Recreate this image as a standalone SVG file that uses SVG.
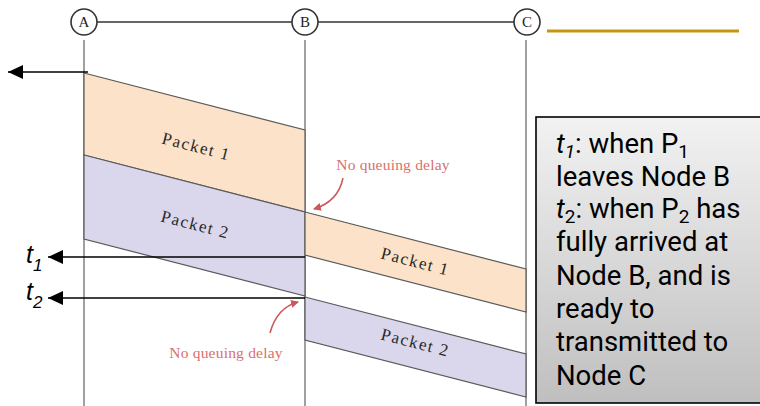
<svg xmlns="http://www.w3.org/2000/svg" width="760" height="406" viewBox="0 0 760 406">
<defs>
<style>
.node circle{fill:#fff;stroke:#333;stroke-width:1.6}
.node text{font-family:"Liberation Serif",serif;font-size:15px;fill:#222;text-anchor:middle}
.vline{stroke:#a0a0a0;stroke-width:2}
.pk1{fill:#fbe2c8;stroke:#5a5a5a;stroke-width:1.2}
.pk2{fill:#dad6ec;stroke:#5a5a5a;stroke-width:1.2}
.plabel{font-family:"Liberation Serif",serif;font-size:17px;letter-spacing:1.5px;fill:#2a2a2a;text-anchor:middle}
.nq{font-family:"Liberation Serif",serif;font-size:15.5px;letter-spacing:0.2px;fill:#d9706c;text-anchor:middle}
.nqarrow{fill:none;stroke:#c9585a;stroke-width:1.5}
.arr{stroke:#000;stroke-width:1.6;fill:none}
.tl{font-family:"Liberation Sans",Arial,sans-serif;font-size:25px;font-style:italic;fill:#000}
.box{font-family:Roboto,"Liberation Sans",sans-serif;font-size:27.5px;fill:#000}
</style>
<marker id="ah" markerWidth="15" markerHeight="14" refX="15" refY="7" orient="auto" markerUnits="userSpaceOnUse">
<path d="M0,0 L15,7 L0,14 Z" fill="#000"/>
</marker>
<marker id="rh" markerWidth="8" markerHeight="8" refX="7" refY="4" orient="auto" markerUnits="userSpaceOnUse">
<path d="M0,0 L8,4 L0,8 Z" fill="#c9585a"/>
</marker>
<linearGradient id="bg" x1="0" y1="0" x2="0" y2="1">
<stop offset="0" stop-color="#f2f2f2"/>
<stop offset="1" stop-color="#bfbfbf"/>
</linearGradient>
</defs>
<rect width="760" height="406" fill="#fff"/>
<g id="timeline">
<line x1="97" y1="22" x2="292" y2="22" stroke="#333" stroke-width="1.5"/>
<line x1="318" y1="22" x2="514" y2="22" stroke="#333" stroke-width="1.5"/>
<line class="vline" x1="84" y1="40" x2="84" y2="406"/>
<line class="vline" x1="305" y1="40" x2="305" y2="406"/>
<line class="vline" x1="526" y1="40" x2="526" y2="406"/>
<line x1="547" y1="31" x2="739" y2="31" stroke="#c8960c" stroke-width="3"/>
</g>
<g id="node-A" class="node"><circle cx="84" cy="22" r="13"/><text x="84" y="27">A</text></g>
<g id="node-B" class="node"><circle cx="305" cy="22" r="13"/><text x="305" y="27">B</text></g>
<g id="node-C" class="node"><circle cx="527" cy="22" r="13"/><text x="527" y="27">C</text></g>
<g id="packet1-AB">
<polygon class="pk1" points="84,73 305,130 305,212 84,155"/>
<text class="plabel" transform="translate(195,152) rotate(14.5)">Packet 1</text>
</g>
<g id="packet2-AB">
<polygon class="pk2" points="84,155 305,212 305,296 84,239"/>
<text class="plabel" transform="translate(194,230) rotate(14.5)">Packet 2</text>
</g>
<g id="packet1-BC">
<polygon class="pk1" points="305,212 526,269 526,312 305,255"/>
<text class="plabel" transform="translate(414,267) rotate(14.5)">Packet 1</text>
</g>
<g id="packet2-BC">
<polygon class="pk2" points="305,297 526,354 526,397 305,340"/>
<text class="plabel" transform="translate(414,348) rotate(14.5)">Packet 2</text>
</g>
<g id="note-top">
<text class="nq" x="393" y="170">No queuing delay</text>
</g>
<g id="note-bottom">
<text class="nq" x="226" y="358">No queuing delay</text>
</g>
<g id="t-labels">
<text class="tl" x="26" y="263">t<tspan font-size="17" dy="8">1</tspan></text>
<text class="tl" x="26" y="300">t<tspan font-size="17" dy="8">2</tspan></text>
</g>
<g id="legend">
<rect x="536" y="117" width="240" height="286" fill="url(#bg)" stroke="#000" stroke-width="1.6"/>
<text class="box" x="556" y="153"><tspan font-style="italic">t</tspan><tspan font-size="19" font-style="italic" dy="5">1</tspan><tspan dy="-5">: when P</tspan><tspan font-size="19" dy="5">1</tspan></text>
<text class="box" x="556" y="186">leaves Node B</text>
<text class="box" x="556" y="218"><tspan font-style="italic">t</tspan><tspan font-size="19" dy="5">2</tspan><tspan dy="-5">: when P</tspan><tspan font-size="19" dy="5">2</tspan><tspan dy="-5"> has</tspan></text>
<text class="box" x="556" y="251">fully arrived at</text>
<text class="box" x="556" y="285">Node B, and is</text>
<text class="box" x="556" y="318">ready to</text>
<text class="box" x="556" y="351">transmitted to</text>
<text class="box" x="556" y="385">Node C</text>
</g>
<g id="connectors">
<line class="arr" x1="88" y1="72" x2="8" y2="72" marker-end="url(#ah)"/>
<line class="arr" x1="305" y1="257" x2="48" y2="257" marker-end="url(#ah)"/>
<line class="arr" x1="305" y1="298" x2="48" y2="298" marker-end="url(#ah)"/>
<path class="nqarrow" d="M343,178 C340,193 330,204 314,209" marker-end="url(#rh)"/>
<path class="nqarrow" d="M270,333 C274,318 283,306 298,302" marker-end="url(#rh)"/>
</g>
</svg>
